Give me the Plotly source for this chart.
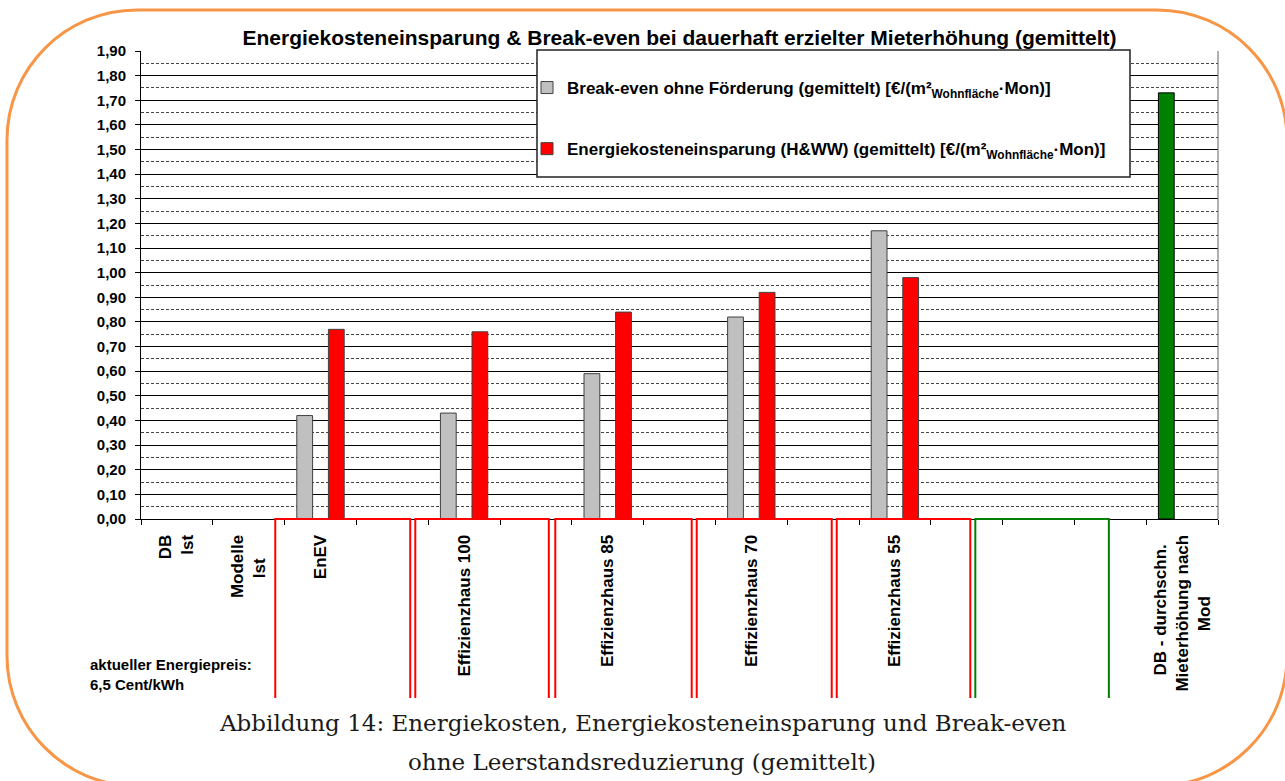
import plotly.graph_objects as go

# ---------------- data ----------------
NB = "&nbsp;"
categories = ["DB<br>Ist", "Modelle<br>Ist" + NB * 5, "EnEV", "", "Effizienzhaus 100", "",
              "Effizienzhaus 85", "", "Effizienzhaus 70", "", "Effizienzhaus 55",
              "", "", "", "DB - durchschn." + NB * 2 + "<br>Mieterhöhung nach<br>Mod" + NB * 13]
break_even = [None, None, 0.42, None, 0.43, None, 0.59, None, 0.82, None, 1.17, None, None, None, None]
savings = [None, None, 0.77, None, 0.76, None, 0.84, None, 0.92, None, 0.98, None, None, None, None]
rent_increase = [None, None, None, None, None, None, None, None, None, None, None, None, None, None, 1.73]

name_break_even = "Break-even ohne Förderung (gemittelt) [€/(m²<sub>Wohnfläche</sub>·Mon)]"
name_savings = "Energiekosteneinsparung (H&WW) (gemittelt) [€/(m²<sub>Wohnfläche</sub>·Mon)]"
title_text = "Energiekosteneinsparung & Break-even bei dauerhaft erzielter Mieterhöhung (gemittelt)"
note_text = "aktueller Energiepreis:<br>6,5 Cent/kWh"
caption_1 = "Abbildung 14: Energiekosten, Energiekosteneinsparung und Break-even"
caption_2 = "ohne Leerstandsreduzierung (gemittelt)"

# ---------------- layout geometry ----------------
W, H = 1285, 781
ML, MR, MT, MB = 141, 67, 51, 262
PW, PH = W - ML - MR, H - MT - MB

def px_x(px):
    return (px - ML) / PW

def px_y(py):
    return (H - MB - py) / PH

x_idx = list(range(len(categories)))
bar_w = 0.22
FONT = "Arial, Liberation Sans, sans-serif"

fig = go.Figure()
fig.add_trace(go.Bar(x=x_idx, y=break_even, name=name_break_even, width=bar_w, offset=-0.33,
                     marker=dict(color="#C0C0C0", line=dict(color="#404040", width=1)),
                     legendgroup="a"))
fig.add_trace(go.Bar(x=x_idx, y=savings, name=name_savings, width=bar_w, offset=0.11,
                     marker=dict(color="#FF0000", line=dict(color="#404040", width=1)),
                     legendgroup="b"))
fig.add_trace(go.Bar(x=x_idx, y=rent_increase, name="Mieterhöhung", width=bar_w, offset=-0.33,
                     marker=dict(color="#008000", line=dict(color="#000000", width=1)),
                     showlegend=False, xaxis="x2"))

# decorative boxes below the axis (in category units)
red_boxes = [(1.37, 3.25), (3.32, 5.18), (5.27, 7.17), (7.24, 9.12), (9.19, 11.05)]
green_boxes = [(11.12, 12.98)]
shapes = []
yb = px_y(698)
for boxes, col in ((red_boxes, "#FF0000"), (green_boxes, "#008000")):
    for x0, x1 in boxes:
        shapes.append(dict(type="path", xref="x", yref="paper",
                           path=f"M {x0},{yb} L {x0},0 L {x1},0 L {x1},{yb}",
                           line=dict(color=col, width=2), layer="above"))

# plot area right border
shapes.append(dict(type="line", xref="paper", yref="paper", x0=1, x1=1, y0=0, y1=1,
                   line=dict(color="#606060", width=1)))

# legend frame (white box behind the legend entries)
shapes.append(dict(type="rect", xref="paper", yref="paper",
                   x0=px_x(537), x1=px_x(1130), y0=px_y(177), y1=px_y(50),
                   fillcolor="white", line=dict(color="#222222", width=1.5), layer="above"))

# orange rounded frame
L, T, R, B, r = 7, 10, 1287, 786, 130
k = 0.5523 * r
def P(px, py):
    return f"{px_x(px):.5f},{px_y(py):.5f}"
frame = (f"M {P(L+r, T)} L {P(R-r, T)} C {P(R-r+k, T)} {P(R, T+r-k)} {P(R, T+r)} "
         f"L {P(R, B-r)} C {P(R, B-r+k)} {P(R-r+k, B)} {P(R-r, B)} "
         f"L {P(L+r, B)} C {P(L+r-k, B)} {P(L, B-r+k)} {P(L, B-r)} "
         f"L {P(L, T+r)} C {P(L, T+r-k)} {P(L+r-k, T)} {P(L+r, T)} Z")
shapes.append(dict(type="path", xref="paper", yref="paper", path=frame,
                   line=dict(color="#F79646", width=3), layer="above"))

annotations = [
    dict(text=f"<b>{note_text}</b>", xref="paper", yref="paper", x=px_x(88), y=px_y(674),
         xanchor="left", yanchor="middle", align="left", showarrow=False,
         font=dict(family=FONT, size=15, color="black")),
    dict(text=caption_1, xref="paper", yref="paper", x=px_x(642), y=px_y(723),
         xanchor="center", yanchor="middle", showarrow=False,
         font=dict(family="DejaVu Serif, serif", size=23, color="#1a1a1a")),
    dict(text=caption_2, xref="paper", yref="paper", x=px_x(642), y=px_y(762),
         xanchor="center", yanchor="middle", showarrow=False,
         font=dict(family="DejaVu Serif, serif", size=23, color="#1a1a1a")),
]

fig.update_layout(
    width=W, height=H,
    margin=dict(l=ML, r=MR, t=MT, b=MB, pad=0),
    paper_bgcolor="white", plot_bgcolor="white",
    separators=",.",
    barmode="overlay",
    font=dict(family=FONT, color="black"),
    title=dict(text=f"<b>{title_text}</b>", xref="paper", x=0.5, xanchor="center",
               yref="container", y=1 - 38 / H, yanchor="middle",
               font=dict(family=FONT, size=21, color="black")),
    xaxis=dict(range=[-0.5, len(categories) - 0.5], tickvals=x_idx, ticktext=categories,
               tickangle=-90, ticks="", showgrid=False, zeroline=False,
               showline=True, linecolor="black", linewidth=1, ticklabelstandoff=8,
               tickfont=dict(family=FONT, size=17, color="black", weight="bold")),
    xaxis2=dict(range=[-0.5, len(categories) - 0.5], overlaying="x", anchor="y", side="bottom",
                tickvals=[i - 0.5 for i in range(len(categories) + 1)], ticks="outside",
                ticklen=5, tickcolor="black", showticklabels=False, showgrid=False,
                zeroline=False, showline=False),
    yaxis=dict(range=[0, 1.9], dtick=0.1, tickformat=".2f", ticks="outside", ticklen=5,
               tickcolor="black", showline=True, linecolor="black", linewidth=1,
               showgrid=True, gridcolor="black", gridwidth=1, zeroline=False,
               ticklabelstandoff=6,
               minor=dict(dtick=0.05, showgrid=True, gridcolor="#444444", griddash="3px,2px",
                          gridwidth=1, ticks=""),
               tickfont=dict(family=FONT, size=15, color="black", weight="bold")),
    legend=dict(x=px_x(527), y=px_y(70), xanchor="left", yanchor="top",
                bgcolor="rgba(0,0,0,0)", borderwidth=0,
                traceorder="grouped", tracegroupgap=36,
                font=dict(family=FONT, size=17, color="black", weight="bold")),
    shapes=shapes, annotations=annotations,
)

fig.write_html("out.html", config={"displayModeBar": False},
               post_script="document.body.style.margin='0';document.body.style.overflow='hidden';")
